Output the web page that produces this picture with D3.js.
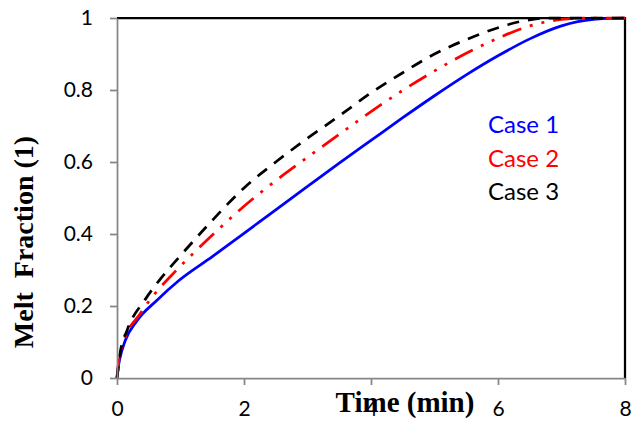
<!DOCTYPE html>
<html>
<head>
<meta charset="utf-8">
<script src="https://cdn.jsdelivr.net/npm/d3@7"></script>
<style>
  body { margin: 0; background: #fff; }
</style>
</head>
<body>
<div id="chart"></div>
<script>
// Values
let timeCase1 = [0, 0.02, 0.04, 0.13, 0.31, 0.63, 0.97, 1.5, 2, 2.5, 3, 3.5, 4, 4.5, 5, 5.5, 6, 6.5, 7, 7.5, 8]
let meltCase1 = [0, 0.03, 0.05, 0.104, 0.158, 0.216, 0.27, 0.337, 0.402, 0.467, 0.532, 0.597, 0.66, 0.723, 0.784, 0.842, 0.895, 0.942, 0.978, 0.996, 1]

let timeCase2 = [0, 0.03, 0.1, 0.37, 0.6, 0.94, 1.46, 2, 2.5, 3, 3.5, 4, 4.5, 5, 5.5, 6, 6.5, 7, 7.3, 8]
let meltCase2 = [0, 0.05, 0.097, 0.18, 0.235, 0.3, 0.39, 0.477, 0.548, 0.613, 0.677, 0.74, 0.799, 0.853, 0.902, 0.944, 0.978, 0.996, 1, 1]

let timeCase3 = [0, 0.05, 0.16, 0.44, 0.66, 1, 1.46, 2, 2.5, 3, 3.5, 4, 4.5, 5, 5.5, 6, 6.4, 6.8, 8]
let meltCase3 = [0, 0.07, 0.133, 0.217, 0.27, 0.34, 0.43, 0.528, 0.6, 0.666, 0.728, 0.792, 0.848, 0.9, 0.94, 0.973, 0.992, 1, 1]

let caseNames = ['Case 1', 'Case 2', 'Case 3']
let xTicks = [0, 2, 4, 6, 8]
let yTicks = [0, 0.2, 0.4, 0.6, 0.8, 1]

let series = [
  { name: caseNames[0], t: timeCase1, v: meltCase1, color: '#0000ff', dash: null },
  { name: caseNames[1], t: timeCase2, v: meltCase2, color: '#ff0000', dash: '20,9,3,9,3,9' },
  { name: caseNames[2], t: timeCase3, v: meltCase3, color: '#000000', dash: '12,9' }
]

let margin = { top: 18, left: 117, right: 7, bottom: 45 }
let width = 632 - margin.left - margin.right
let height = 423 - margin.top - margin.bottom

let svg = d3
  .select('#chart')
  .append('svg')
  .attr('width', 632)
  .attr('height', 423)
  .style('font-family', 'Lato, sans-serif')

let g = svg.append('g').attr('transform', `translate(${margin.left},${margin.top})`)

let xPositionScale = d3.scaleLinear().domain([0, 8]).range([0, width])
let yPositionScale = d3.scaleLinear().domain([0, 1]).range([height, 0])

let line = d3
  .line()
  .x(d => xPositionScale(d[0]))
  .y(d => yPositionScale(d[1]))
  .curve(d3.curveMonotoneX)

// top and right borders
g.append('path')
  .attr('d', `M0,0H${width}V${height}`)
  .attr('fill', 'none')
  .attr('stroke', '#000')
  .attr('stroke-width', 2.25)

series.forEach(s => {
  g.append('path')
    .datum(s.t.map((t, i) => [t, s.v[i]]))
    .attr('d', line)
    .attr('fill', 'none')
    .attr('stroke', s.color)
    .attr('stroke-width', 2.75)
    .attr('stroke-dasharray', s.dash)
})

let xAxis = d3.axisBottom(xPositionScale).tickValues(xTicks).tickFormat(d3.format('d')).tickSize(7).tickSizeOuter(0).tickPadding(16)
g.append('g')
  .attr('class', 'axis x-axis')
  .attr('transform', `translate(0,${height})`)
  .call(xAxis)

let yAxis = d3.axisLeft(yPositionScale).tickValues(yTicks).tickFormat(d => d).tickSize(7).tickSizeOuter(0).tickPadding(17)
g.append('g')
  .attr('class', 'axis y-axis')
  .call(yAxis)

svg.selectAll('.axis path, .axis line')
  .attr('stroke', '#868686')
  .attr('stroke-width', 1.75)
svg.selectAll('.axis text')
  .attr('font-size', 21)
  .attr('font-family', 'Lato, sans-serif')
  .attr('fill', '#000')

// legend
g.selectAll('.legend')
  .data(series)
  .enter()
  .append('text')
  .attr('class', 'legend')
  .text(d => d.name)
  .attr('x', 371)
  .attr('y', (d, i) => 115 + i * 33.5)
  .attr('font-size', 24)
  .attr('fill', d => d.color)

svg.append('text')
  .text('Time (min)')
  .attr('x', 405)
  .attr('y', 412)
  .attr('text-anchor', 'middle')
  .attr('font-family', 'Liberation Serif, serif')
  .attr('font-weight', 'bold')
  .attr('font-size', 29)

svg.append('text')
  .text('Melt  Fraction (1)')
  .attr('transform', 'translate(33,242) rotate(-90)')
  .attr('text-anchor', 'middle')
  .attr('font-family', 'Liberation Serif, serif')
  .attr('font-weight', 'bold')
  .attr('font-size', 28)
  .style('white-space', 'pre')
</script>
</body>
</html>
